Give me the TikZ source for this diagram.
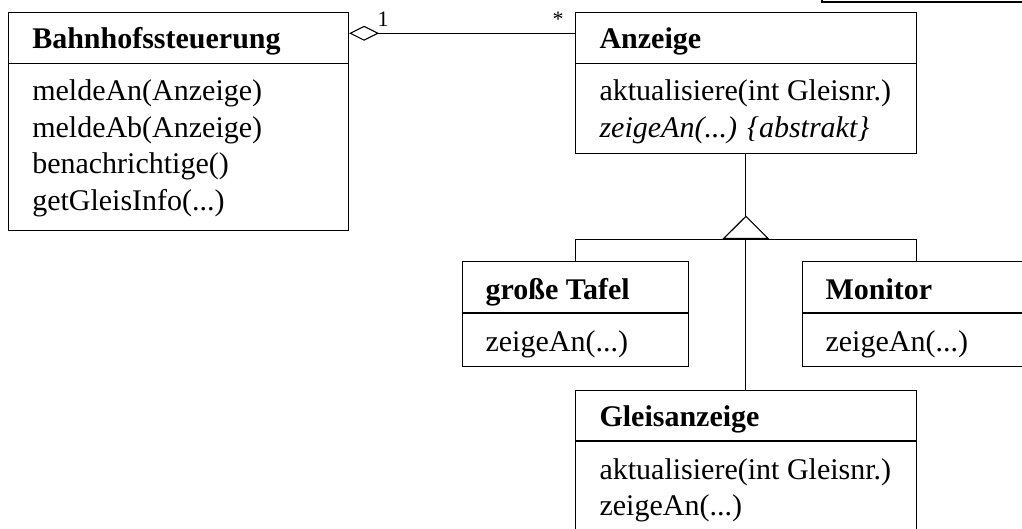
\documentclass[tikz,border=0pt]{standalone}
\usepackage{fontspec}
\setmainfont{Liberation Serif}
\usetikzlibrary{arrows.meta,calc}
\begin{document}
\begin{tikzpicture}[x=1pt,y=-1pt, line width=1.1pt,
  cls/.style={draw, inner sep=0pt, anchor=north west},
  txt/.style={anchor=base west, inner sep=0pt, font=\fontsize{30}{36}\selectfont},
  mult/.style={anchor=base west, inner sep=0pt, font=\fontsize{22}{26}\selectfont}]
\useasboundingbox (0,0) rectangle (1022,529);
\clip (0,0) rectangle (1022,529);

% partial box at top right
\node[cls, line width=2pt, minimum width=250pt, minimum height=31.5pt] (T) at (821,-30) {};

% class boxes
\node[cls, minimum width=340pt, minimum height=218.3pt] (B) at (8,11.7) {};
\node[cls, minimum width=340.7pt, minimum height=141.3pt] (A) at (575,11.7) {};
\node[cls, minimum width=226.3pt, minimum height=105.3pt] (gT) at (461.7,260.7) {};
\node[cls, minimum width=228pt, minimum height=105.3pt] (M) at (802,260.7) {};
\node[cls, minimum width=340.7pt, minimum height=170pt] (G) at (575,389.5) {};

% separators
\coordinate (sB) at (0,63.3);
\coordinate (sT) at (0,313);
\coordinate (sG) at (0,441);
\draw (B.west |- sB) -- (B.east |- sB);
\draw (A.west |- sB) -- (A.east |- sB);
\draw (gT.west |- sT) -- (gT.east |- sT);
\draw (M.west |- sT) -- (M.east |- sT);
\draw (G.west |- sG) -- (G.east |- sG);

% texts
\node[txt] (Bt) at (31.7,48.3) {\bfseries Bahnhofssteuerung};
\node[txt] (B1) at (31.7,101) {meldeAn(Anzeige)};
\node[txt] (B2) at (31.7,137.5) {meldeAb(Anzeige)};
\node[txt] (B3) at (31.7,174) {benachrichtige()};
\node[txt] (B4) at (31.7,210.5) {getGleisInfo(...)};

\node[txt] (At) at (599,48.3) {\bfseries Anzeige};
\node[txt] (A1) at (599,101) {aktualisiere(int Gleisnr.)};
\node[txt] (A2) at (599,137.5) {\itshape zeigeAn(...) \{abstrakt\}};

\node[txt] (gTt) at (485,299) {\bfseries große Tafel};
\node[txt] (gT1) at (485,351) {zeigeAn(...)};

\node[txt] (Mt) at (825,299) {\bfseries Monitor};
\node[txt] (M1) at (825,351) {zeigeAn(...)};

\node[txt] (Gt) at (599,426.5) {\bfseries Gleisanzeige};
\node[txt] (G1) at (599,479) {aktualisiere(int Gleisnr.)};
\node[txt] (G2) at (599,515.5) {zeigeAn(...)};

% aggregation
\coordinate (yA) at (0,33.3);
\draw[-{Diamond[open,length=30pt,width=15pt]}] (A.west |- yA) -- (B.east |- yA);
\node[mult] (m1) at (377,27) {1};
\node[mult] (m2) at (552,27) {*};

% generalization
\coordinate (apex) at ($(A.south)+(0,61.5)$);
\coordinate (base) at ($(apex)+(0,23.5)$);
\draw (apex) -- (A.south);
\draw[-{Triangle[open,length=23.5pt,width=47pt]}] (G.north) -- (apex);
\draw (gT.north) -- (gT.north |- base) -- (M.north |- base) -- (M.north);
\end{tikzpicture}
\end{document}
